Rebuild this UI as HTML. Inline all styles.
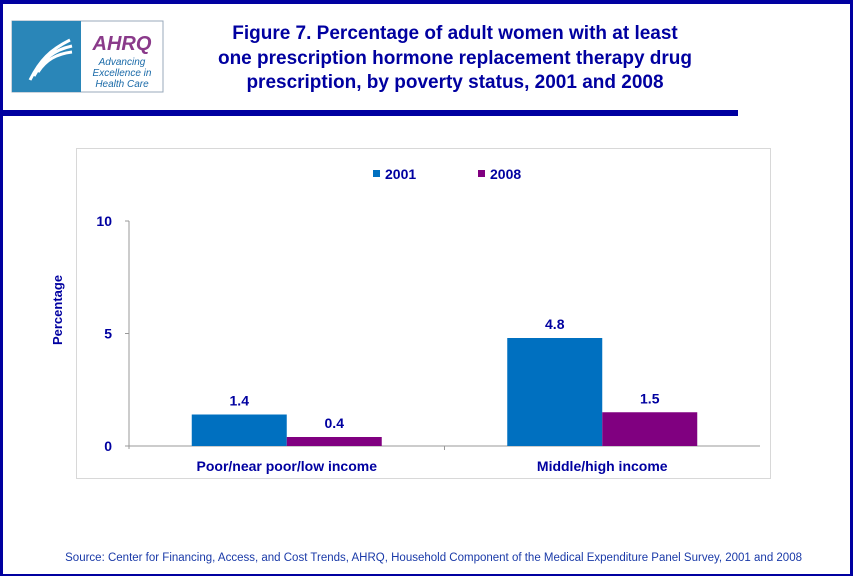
<!DOCTYPE html>
<html><head><meta charset="utf-8"><style>
body{margin:0;width:853px;height:576px;overflow:hidden;background:#fff;font-family:"Liberation Sans",Arial,sans-serif}
#frame{position:absolute;left:0;top:0;width:847px;height:570px;border:3px solid #0000a0;border-top-width:4px;border-bottom-width:2px}
</style></head><body>
<div id="frame"></div>
<svg width="853" height="576" style="position:absolute;left:0;top:0">
 <g>
  <rect x="12" y="21" width="151" height="71" fill="#fff" stroke="#9ab" stroke-width="1"/>
  <rect x="12" y="21" width="69" height="71" fill="#2a86b8"/>
  <path d="M30 80 C40 60,50 50,70 40 M34 76 C44 58,54 50,72 46 M38 72 C46 60,56 54,72 52" stroke="#fff" stroke-width="3" fill="none"/>
  <text x="122" y="50" font-size="20" font-weight="bold" font-style="italic" fill="#8a3a8a" text-anchor="middle">AHRQ</text>
  <text x="122" y="65" font-size="10" font-style="italic" fill="#1a6aa8" text-anchor="middle">Advancing</text>
  <text x="122" y="76" font-size="10" font-style="italic" fill="#1a6aa8" text-anchor="middle">Excellence in</text>
  <text x="122" y="87" font-size="10" font-style="italic" fill="#1a6aa8" text-anchor="middle">Health Care</text>
 </g>
 <g font-size="19" font-weight="bold" fill="#0000a0" text-anchor="middle">
  <text x="455" y="39">Figure 7. Percentage of adult women with at least</text>
  <text x="455" y="64">one prescription hormone replacement therapy drug</text>
  <text x="455" y="88">prescription, by poverty status, 2001 and 2008</text>
 </g>
 <rect x="0" y="110" width="738" height="6" fill="#0000a0"/>
 <rect x="76.5" y="148.5" width="694" height="330" fill="#fff" stroke="#d8d8d8"/>
 <g id="plot"></g>
 <text x="802" y="561" font-size="11.5" fill="#1a3aa8" text-anchor="end">Source: Center for Financing, Access, and Cost Trends, AHRQ, Household Component of the Medical Expenditure Panel Survey,  2001 and 2008</text>
</svg>
<script>
const categories=["Poor/near poor/low income","Middle/high income"];
const seriesNames=["2001","2008"];
const values2001=[1.4,4.8];
const values2008=[0.4,1.5];
const labels2001=["1.4","4.8"];
const labels2008=["0.4","1.5"];
const yTicks=[0,5,10];
const colors=["#0070c0","#800080"];
const NS="http://www.w3.org/2000/svg";
const g=document.getElementById('plot');
const X0=129,X1=760,Y0=446,Y1=221,YMAX=10;
const y=v=>Y0-(v/YMAX)*(Y0-Y1);
const catW=(X1-X0)/categories.length;
const cx=i=>X0+catW*(i+0.5);
const BW=95;
function mk(t,a){const e=document.createElementNS(NS,t);for(const k in a)e.setAttribute(k,a[k]);g.appendChild(e);return e;}
let e;
e=mk('line',{x1:X0,y1:Y1,x2:X0,y2:Y0+3,stroke:'#999'});


e=mk('line',{x1:X0,y1:Y0,x2:X1,y2:Y0,stroke:'#999'});


yTicks.forEach(t=>{
 e=mk('line',{x1:X0-4,y1:y(t),x2:X0,y2:y(t),stroke:'#999'});
 
 
 e=mk('text',{x:X0-17,y:y(t)+5,'font-size':14,'font-weight':'bold',fill:'#0000a0','text-anchor':'end'});
 e.textContent=t;
 
 
});
for(let i=1;i<categories.length;i++){
 e=mk('line',{x1:X0+catW*i,y1:Y0,x2:X0+catW*i,y2:Y0+4,stroke:'#999'});
 
 
}
e=mk('text',{x:62,y:310,'font-size':13,'font-weight':'bold',fill:'#0000a0','text-anchor':'middle',transform:'rotate(-90 62 310)'});
e.textContent='Percentage';


const series=[values2001,values2008],labs=[labels2001,labels2008];
categories.forEach((c,i)=>{
 series.forEach((s,j)=>{
  const x=cx(i)-BW+j*BW;
  e=mk('rect',{x:x,y:y(s[i]),width:BW,height:Y0-y(s[i]),fill:colors[j]});
  
  
  e=mk('text',{x:x+BW/2,y:y(s[i])-9,'font-size':14,'font-weight':'bold',fill:'#0000a0','text-anchor':'middle'});
  e.textContent=labs[j][i];
  
  
 });
 e=mk('text',{x:cx(i),y:471,'font-size':14,'font-weight':'bold',fill:'#0000a0','text-anchor':'middle'});
 e.textContent=c;
 
 
});
const legX=[373,478];
seriesNames.forEach((n,j)=>{
 e=mk('rect',{x:legX[j],y:170,width:7,height:7,fill:colors[j]});
 
 
 e=mk('text',{x:legX[j]+12,y:179,'font-size':14,'font-weight':'bold',fill:'#0000a0'});
 e.textContent=n;
 
 
});
</script>
</body></html>
